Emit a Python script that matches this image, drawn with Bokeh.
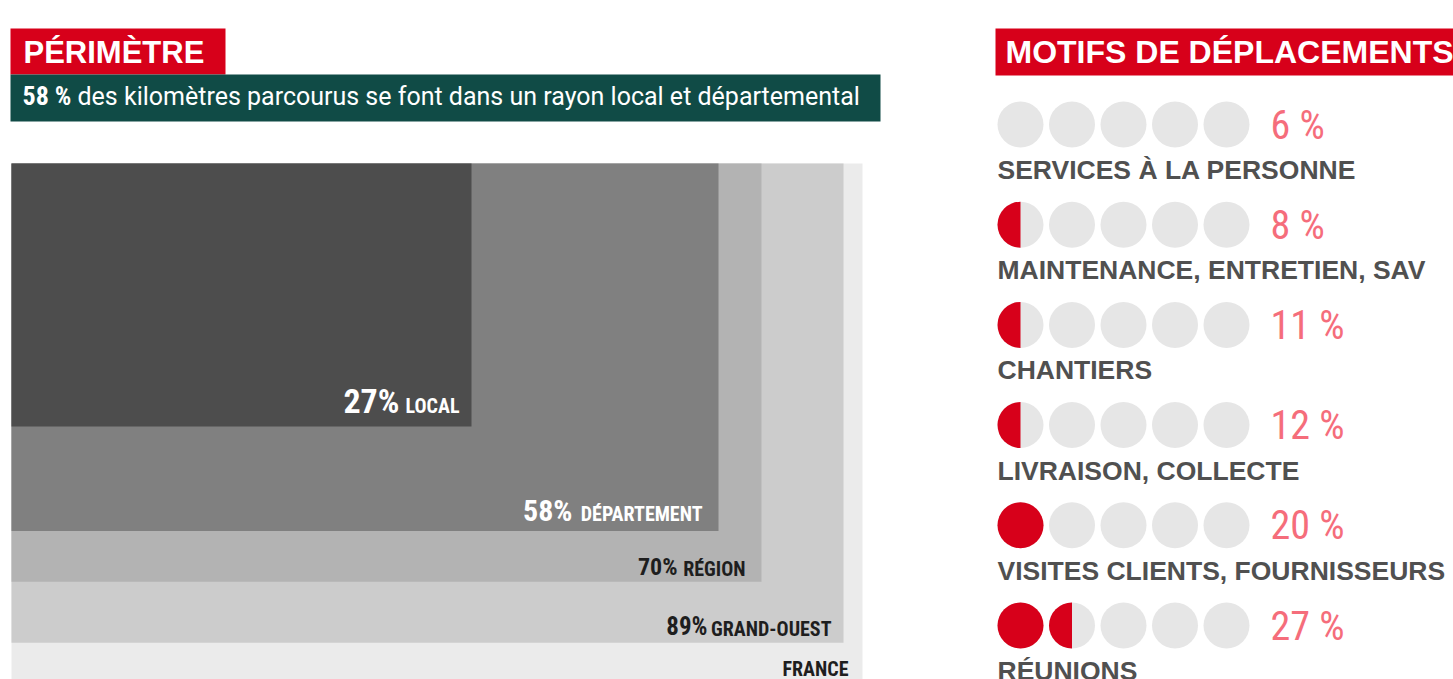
import math
from bokeh.plotting import figure
from bokeh.models import Range1d, ColumnDataSource
from bokeh.core.properties import value
from bokeh.embed import file_html
from bokeh.resources import INLINE

# ---------------- data ----------------
title_left = "PÉRIMÈTRE"
subtitle_value = "58 %"
subtitle_text = "des kilomètres parcourus se font dans un rayon local et départemental"
perimetre_labels = ["LOCAL", "DÉPARTEMENT", "RÉGION", "GRAND-OUEST", "FRANCE"]
perimetre_pct = [27, 58, 70, 89, 100]

title_right = "MOTIFS DE DÉPLACEMENTS"
motifs_labels = ["SERVICES À LA PERSONNE", "MAINTENANCE, ENTRETIEN, SAV", "CHANTIERS",
                 "LIVRAISON, COLLECTE", "VISITES CLIENTS, FOURNISSEURS", "RÉUNIONS"]
motifs_pct = [6, 8, 11, 12, 20, 27]
motifs_filled = [0, 0.5, 0.5, 0.5, 1, 1.5]   # circles coloured, as drawn
n_circles = 5

# ---------------- layout / style ----------------
W, H = 1453, 679
RED = "#d7001a"
GREEN = "#104b46"
PINK = "#f56d7b"
GREY_TXT = "#505050"
COND = "Roboto Condensed, DejaVu Sans Condensed"
ARIAL = "Liberation Sans"
HALF_CAP = 0.36  # vertical centre of capitals, in em above baseline

def mid(baseline, size):
    return baseline - HALF_CAP * size

rect_x0, rect_y0 = 11, 163
rect_widths = [460, 707, 750, 832, 851]
area_per_pct = 4481.0
rect_colors = ["#4d4d4d", "#808080", "#b3b3b3", "#cccccc", "#ebebeb"]
label_colors = ["white", "white", "#1e1e1e", "#1e1e1e", "#1e1e1e"]
word_pad = [12, 16, 16, 12, 14]
word_base = [13, 10, 6, 7, 14]
num_pad = [72, 146, 84, 136, 0]
num_sizes = [34, 30, 24, 25, 0]
word_sizes = [20, 20, 20, 20, 20]

p = figure(width=W, height=H, x_range=Range1d(0, W), y_range=Range1d(H, 0),
           output_backend="svg", toolbar_location=None, min_border=0,
           x_axis_location=None, y_axis_location=None, outline_line_color=None,
           background_fill_color="white", border_fill_color="white")
p.grid.grid_line_color = None

# ---- left header ----
p.quad(left=[10], right=[225], top=[28], bottom=[74], fill_color=RED, line_color=None)
p.text(x=[23], y=[mid(63, 31)], text=[title_left], text_font=value(ARIAL), text_font_style="bold",
       text_font_size="31px", text_color="white", text_baseline="middle")
p.quad(left=[10], right=[880], top=[74], bottom=[121], fill_color=GREEN, line_color=None)
p.text(x=[22], y=[mid(105, 26)], text=[subtitle_value], text_font=value(COND), text_font_style="bold",
       text_font_size="26px", text_color="white", text_baseline="middle")
p.text(x=[77], y=[mid(105, 25)], text=[subtitle_text], text_font=value("Roboto"),
       text_font_size="25px", text_color="white", text_baseline="middle")

# ---- nested rectangles (area proportional to share) ----
heights = [v * area_per_pct / w for v, w in zip(perimetre_pct, rect_widths)]
order = list(range(len(perimetre_pct)))[::-1]
rsrc = ColumnDataSource(dict(
    left=[rect_x0] * len(order),
    right=[rect_x0 + rect_widths[i] for i in order],
    top=[rect_y0] * len(order),
    bottom=[rect_y0 + heights[i] for i in order],
    color=[rect_colors[i] for i in order]))
p.quad(left="left", right="right", top="top", bottom="bottom", fill_color="color",
       line_color=None, source=rsrc)

rights = [rect_x0 + w for w in rect_widths]
bottoms = [rect_y0 + h for h in heights]
wsrc = ColumnDataSource(dict(
    x=[r - pd for r, pd in zip(rights, word_pad)],
    y=[mid(b - bb, s) for b, bb, s in zip(bottoms, word_base, word_sizes)],
    text=perimetre_labels, color=label_colors, size=[f"{s}px" for s in word_sizes]))
p.text(x="x", y="y", text="text", text_color="color", text_font_size="size",
       text_font=value(COND), text_font_style="bold", text_align="right",
       text_baseline="middle", source=wsrc)
idx = [i for i, v in enumerate(perimetre_pct) if v < 100]
nsrc = ColumnDataSource(dict(
    x=[rights[i] - num_pad[i] for i in idx],
    y=[mid(bottoms[i] - word_base[i], num_sizes[i]) for i in idx],
    text=[f"{perimetre_pct[i]}%" for i in idx],
    color=[label_colors[i] for i in idx], size=[f"{num_sizes[i]}px" for i in idx]))
p.text(x="x", y="y", text="text", text_color="color", text_font_size="size",
       text_font=value(COND), text_font_style="bold", text_align="right",
       text_baseline="middle", source=nsrc)

# ---- right header ----
p.quad(left=[995], right=[1460], top=[28], bottom=[75], fill_color=RED, line_color=None)
p.text(x=[1005], y=[mid(63, 32)], text=[title_right], text_font=value(ARIAL), text_font_style="bold",
       text_font_size="32px", text_color="white", text_baseline="middle")

# ---- circle rows ----
cx0, cdx, cr = 1020, 51.5, 23
row_y0, row_dy = 124, 100.2
gx, gy, fx, fy, hx, hy = [], [], [], [], [], []
for r, f in enumerate(motifs_filled):
    cy = row_y0 + r * row_dy
    for c in range(n_circles):
        x = cx0 + c * cdx
        gx.append(x); gy.append(cy)
        if c + 1 <= f:
            fx.append(x); fy.append(cy)
        elif c < f:
            hx.append(x); hy.append(cy)
p.circle(x=gx, y=gy, radius=cr, fill_color="#e6e6e6", line_color=None)
p.circle(x=fx, y=fy, radius=cr, fill_color=RED, line_color=None)
p.wedge(x=hx, y=hy, radius=cr, start_angle=math.pi / 2, end_angle=3 * math.pi / 2,
        fill_color=RED, line_color=None)

rows_y = [row_y0 + r * row_dy for r in range(len(motifs_pct))]
p.text(x=[1270] * len(motifs_pct), y=[mid(y + 15, 40) for y in rows_y],
       text=[f"{v} %" for v in motifs_pct], text_font=value(COND),
       text_font_size="40px", text_color=PINK, text_baseline="middle")
p.text(x=[997] * len(motifs_labels), y=[mid(y + 55, 26.5) for y in rows_y], text=motifs_labels,
       text_font=value(ARIAL), text_font_style="bold", text_font_size="26.5px",
       text_color=GREY_TXT, text_baseline="middle")

open("out.html", "w").write(file_html(p, INLINE))
